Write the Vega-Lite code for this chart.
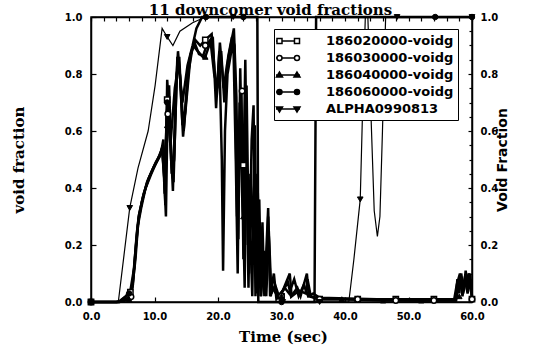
{
  "$schema": "https://vega.github.io/schema/vega-lite/v6.json",
  "width": 381,
  "height": 285,
  "autosize": {"type": "none"},
  "padding": {"left": 91, "top": 17, "right": 61, "bottom": 46},
  "background": "white",
  "title": {"text": "11 downcomer void fractions", "font": "DejaVu Serif", "fontSize": 15, "fontWeight": "bold", "color": "black", "anchor": "middle", "offset": -6, "dx": -11},
  "config": {
    "view": {"stroke": "black", "strokeWidth": 1.5},
    "axis": {"domainColor": "black", "domainWidth": 1.5, "tickColor": "black", "tickWidth": 1.2, "labelColor": "black", "labelFont": "DejaVu Sans", "labelFontWeight": "bold", "labelFontSize": 10, "titleColor": "black", "grid": false, "labelFlush": false, "labelOverlap": false}
  },
  "datasets": {
    "lines": [
      {"s":"a","t":0,"v":0},{"s":"a","t":4,"v":0},{"s":"a","t":4.6,"v":0.005},{"s":"a","t":5.5,"v":0.02},{"s":"a","t":6.2,"v":0.04},{"s":"a","t":6.8,"v":0.12},{"s":"a","t":7.2,"v":0.24},{"s":"a","t":7.6,"v":0.31},{"s":"a","t":8.2,"v":0.37},{"s":"a","t":9,"v":0.43},{"s":"a","t":10,"v":0.48},{"s":"a","t":11,"v":0.52},{"s":"a","t":11.4,"v":0.57},{"s":"a","t":11.7,"v":0.34},{"s":"a","t":12.0,"v":0.78},{"s":"a","t":12.4,"v":0.63},{"s":"a","t":12.9,"v":0.39},{"s":"a","t":13.3,"v":0.72},{"s":"a","t":13.7,"v":0.88},{"s":"a","t":14.2,"v":0.74},{"s":"a","t":14.6,"v":0.6},{"s":"a","t":15.2,"v":0.79},{"s":"a","t":15.9,"v":0.88},{"s":"a","t":16.4,"v":0.92},{"s":"a","t":17.2,"v":0.9},{"s":"a","t":18,"v":0.92},{"s":"a","t":19,"v":0.94},{"s":"a","t":19.8,"v":0.72},{"s":"a","t":20.3,"v":0.91},{"s":"a","t":20.9,"v":0.75},{"s":"a","t":21.4,"v":0.83},{"s":"a","t":22,"v":0.9},{"s":"a","t":22.5,"v":0.96},{"s":"a","t":22.9,"v":0.72},{"s":"a","t":23.2,"v":0.22},{"s":"a","t":23.5,"v":0.82},{"s":"a","t":23.8,"v":0.48},{"s":"a","t":24.2,"v":0.05},{"s":"a","t":24.5,"v":0.76},{"s":"a","t":24.9,"v":0.1},{"s":"a","t":25.3,"v":0.57},{"s":"a","t":25.6,"v":0.69},{"s":"a","t":25.9,"v":0.02},{"s":"a","t":26.2,"v":0.45},{"s":"a","t":26.6,"v":0.05},{"s":"a","t":27.0,"v":0.28},{"s":"a","t":27.3,"v":0.02},{"s":"a","t":27.9,"v":0.33},{"s":"a","t":28.2,"v":0.02},{"s":"a","t":28.8,"v":0.1},{"s":"a","t":29.2,"v":0.01},{"s":"a","t":30,"v":0.03},{"s":"a","t":31,"v":0.07},{"s":"a","t":31.5,"v":0.02},{"s":"a","t":32.5,"v":0.05},{"s":"a","t":33,"v":0.02},{"s":"a","t":34,"v":0.1},{"s":"a","t":34.3,"v":0.02},{"s":"a","t":36,"v":0.01},{"s":"a","t":40,"v":0.01},{"s":"a","t":50,"v":0.005},{"s":"a","t":57.4,"v":0.005},{"s":"a","t":57.7,"v":0.08},{"s":"a","t":58,"v":0.03},{"s":"a","t":58.3,"v":0.1},{"s":"a","t":58.7,"v":0.04},{"s":"a","t":59,"v":0.11},{"s":"a","t":59.4,"v":0.05},{"s":"a","t":59.7,"v":0.1},{"s":"a","t":60,"v":0.02},
      {"s":"b","t":0,"v":0},{"s":"b","t":4.2,"v":0},{"s":"b","t":5,"v":0.005},{"s":"b","t":5.8,"v":0.015},{"s":"b","t":6.4,"v":0.03},{"s":"b","t":7.0,"v":0.15},{"s":"b","t":7.4,"v":0.27},{"s":"b","t":7.9,"v":0.33},{"s":"b","t":8.6,"v":0.4},{"s":"b","t":9.5,"v":0.45},{"s":"b","t":10.5,"v":0.5},{"s":"b","t":11.2,"v":0.54},{"s":"b","t":11.5,"v":0.45},{"s":"b","t":11.8,"v":0.3},{"s":"b","t":12.1,"v":0.74},{"s":"b","t":12.6,"v":0.5},{"s":"b","t":13.0,"v":0.42},{"s":"b","t":13.5,"v":0.8},{"s":"b","t":13.9,"v":0.86},{"s":"b","t":14.4,"v":0.62},{"s":"b","t":14.8,"v":0.66},{"s":"b","t":15.5,"v":0.85},{"s":"b","t":16.1,"v":0.9},{"s":"b","t":16.8,"v":0.88},{"s":"b","t":17.6,"v":0.86},{"s":"b","t":18.2,"v":0.9},{"s":"b","t":18.8,"v":0.92},{"s":"b","t":19.4,"v":0.8},{"s":"b","t":19.9,"v":0.75},{"s":"b","t":20.5,"v":0.88},{"s":"b","t":21.0,"v":0.7},{"s":"b","t":21.6,"v":0.86},{"s":"b","t":22.2,"v":0.93},{"s":"b","t":22.6,"v":0.9},{"s":"b","t":23.0,"v":0.3},{"s":"b","t":23.3,"v":0.6},{"s":"b","t":23.7,"v":0.74},{"s":"b","t":24.0,"v":0.15},{"s":"b","t":24.4,"v":0.62},{"s":"b","t":24.8,"v":0.05},{"s":"b","t":25.1,"v":0.45},{"s":"b","t":25.5,"v":0.2},{"s":"b","t":25.8,"v":0.62},{"s":"b","t":26.1,"v":0.03},{"s":"b","t":26.5,"v":0.36},{"s":"b","t":26.8,"v":0.02},{"s":"b","t":27.2,"v":0.18},{"s":"b","t":27.6,"v":0.02},{"s":"b","t":28.0,"v":0.25},{"s":"b","t":28.4,"v":0.03},{"s":"b","t":29,"v":0.06},{"s":"b","t":29.6,"v":0.02},{"s":"b","t":30.5,"v":0.05},{"s":"b","t":31.2,"v":0.03},{"s":"b","t":32,"v":0.08},{"s":"b","t":32.7,"v":0.02},{"s":"b","t":33.5,"v":0.06},{"s":"b","t":34.2,"v":0.02},{"s":"b","t":35,"v":0.03},{"s":"b","t":36,"v":0.015},{"s":"b","t":45,"v":0.01},{"s":"b","t":57.2,"v":0.01},{"s":"b","t":57.6,"v":0.06},{"s":"b","t":58.1,"v":0.1},{"s":"b","t":58.5,"v":0.02},{"s":"b","t":58.9,"v":0.09},{"s":"b","t":59.3,"v":0.03},{"s":"b","t":59.8,"v":0.08},{"s":"b","t":60,"v":0.01},
      {"s":"c","t":0,"v":0},{"s":"c","t":4.4,"v":0},{"s":"c","t":5.2,"v":0.003},{"s":"c","t":6,"v":0.01},{"s":"c","t":6.6,"v":0.06},{"s":"c","t":7.1,"v":0.2},{"s":"c","t":7.5,"v":0.29},{"s":"c","t":8,"v":0.35},{"s":"c","t":8.8,"v":0.42},{"s":"c","t":9.8,"v":0.47},{"s":"c","t":10.8,"v":0.51},{"s":"c","t":11.3,"v":0.55},{"s":"c","t":11.6,"v":0.38},{"s":"c","t":11.9,"v":0.65},{"s":"c","t":12.3,"v":0.76},{"s":"c","t":12.7,"v":0.45},{"s":"c","t":13.1,"v":0.5},{"s":"c","t":13.6,"v":0.86},{"s":"c","t":14.0,"v":0.8},{"s":"c","t":14.5,"v":0.58},{"s":"c","t":15.0,"v":0.7},{"s":"c","t":15.7,"v":0.87},{"s":"c","t":16.3,"v":0.91},{"s":"c","t":17,"v":0.87},{"s":"c","t":18,"v":0.86},{"s":"c","t":18.6,"v":0.9},{"s":"c","t":19.2,"v":0.92},{"s":"c","t":19.7,"v":0.68},{"s":"c","t":20.2,"v":0.88},{"s":"c","t":20.6,"v":0.5},{"s":"c","t":20.8,"v":0.11},{"s":"c","t":21.1,"v":0.6},{"s":"c","t":21.5,"v":0.8},{"s":"c","t":22.1,"v":0.88},{"s":"c","t":22.4,"v":0.94},{"s":"c","t":22.8,"v":0.5},{"s":"c","t":23.1,"v":0.1},{"s":"c","t":23.4,"v":0.7},{"s":"c","t":23.9,"v":0.3},{"s":"c","t":24.3,"v":0.85},{"s":"c","t":24.7,"v":0.2},{"s":"c","t":25.0,"v":0.3},{"s":"c","t":25.4,"v":0.02},{"s":"c","t":25.7,"v":0.5},{"s":"c","t":26.0,"v":0.05},{"s":"c","t":26.4,"v":0.25},{"s":"c","t":26.7,"v":0.02},{"s":"c","t":27.1,"v":0.12},{"s":"c","t":27.5,"v":0.03},{"s":"c","t":27.9,"v":0.3},{"s":"c","t":28.3,"v":0.02},{"s":"c","t":28.6,"v":0.05},{"s":"c","t":29.4,"v":0.02},{"s":"c","t":30.2,"v":0.04},{"s":"c","t":31.3,"v":0.1},{"s":"c","t":31.6,"v":0.02},{"s":"c","t":32.8,"v":0.04},{"s":"c","t":33.8,"v":0.03},{"s":"c","t":34.1,"v":0.08},{"s":"c","t":34.6,"v":0.02},{"s":"c","t":36,"v":0.01},{"s":"c","t":39.5,"v":0.01},{"s":"c","t":46,"v":0.005},{"s":"c","t":57.5,"v":0.005},{"s":"c","t":57.8,"v":0.05},{"s":"c","t":58.2,"v":0.08},{"s":"c","t":58.6,"v":0.03},{"s":"c","t":59,"v":0.07},{"s":"c","t":59.5,"v":0.1},{"s":"c","t":59.9,"v":0.03},{"s":"c","t":60,"v":0.01},
      {"s":"d","t":0,"v":0},{"s":"d","t":4.5,"v":0},{"s":"d","t":5.5,"v":0.02},{"s":"d","t":6.5,"v":0.05},{"s":"d","t":7,"v":0.18},{"s":"d","t":7.5,"v":0.3},{"s":"d","t":8.3,"v":0.38},{"s":"d","t":9.2,"v":0.44},{"s":"d","t":10.2,"v":0.49},{"s":"d","t":11.2,"v":0.53},{"s":"d","t":11.6,"v":0.42},{"s":"d","t":12,"v":0.7},{"s":"d","t":12.5,"v":0.55},{"s":"d","t":13.2,"v":0.75},{"s":"d","t":13.8,"v":0.84},{"s":"d","t":14.4,"v":0.7},{"s":"d","t":15.2,"v":0.83},{"s":"d","t":16,"v":0.9},{"s":"d","t":16.6,"v":0.96},{"s":"d","t":17.5,"v":1.0},{"s":"d","t":26.2,"v":1.0},{"s":"d","t":26.35,"v":0.0},{"s":"d","t":35.2,"v":0.0},{"s":"d","t":35.45,"v":1.0},{"s":"d","t":60,"v":1.0},
      {"s":"e","t":0,"v":0},{"s":"e","t":4.3,"v":0},{"s":"e","t":6.1,"v":0.33},{"s":"e","t":7.4,"v":0.47},{"s":"e","t":9,"v":0.6},{"s":"e","t":10.1,"v":0.76},{"s":"e","t":11.2,"v":0.96},{"s":"e","t":12,"v":0.93},{"s":"e","t":12.9,"v":0.9},{"s":"e","t":14,"v":0.95},{"s":"e","t":16,"v":0.98},{"s":"e","t":18,"v":1.0},{"s":"e","t":26.2,"v":1.0},{"s":"e","t":26.3,"v":0},{"s":"e","t":40.6,"v":0},{"s":"e","t":41.4,"v":0.15},{"s":"e","t":42.4,"v":0.36},{"s":"e","t":42.8,"v":0.7},{"s":"e","t":43.2,"v":1.0},{"s":"e","t":43.6,"v":1.0},{"s":"e","t":44.1,"v":0.65},{"s":"e","t":44.6,"v":0.32},{"s":"e","t":45.1,"v":0.23},{"s":"e","t":45.5,"v":0.3},{"s":"e","t":45.9,"v":0.6},{"s":"e","t":46.4,"v":1.0},{"s":"e","t":60,"v":1.0}
    ],
    "marks": [
      {"s":"a","t":0,"v":0},{"s":"a","t":6.2,"v":0.035},{"s":"a","t":12,"v":0.71},{"s":"a","t":18,"v":0.92},{"s":"a","t":24,"v":0.48},{"s":"a","t":30,"v":0.02},{"s":"a","t":36,"v":0.01},{"s":"a","t":42,"v":0.01},{"s":"a","t":48,"v":0.01},{"s":"a","t":54,"v":0.01},{"s":"a","t":60,"v":0.01},
      {"s":"b","t":0,"v":0},{"s":"b","t":6.3,"v":0.018},{"s":"b","t":12.1,"v":0.66},{"s":"b","t":18,"v":0.9},{"s":"b","t":23.8,"v":0.74},{"s":"b","t":30,"v":0.02},{"s":"b","t":36,"v":0.01},{"s":"b","t":42,"v":0.01},{"s":"b","t":48,"v":0.005},{"s":"b","t":54,"v":0.005},{"s":"b","t":60,"v":0.01},
      {"s":"c","t":0,"v":0},{"s":"c","t":6,"v":0.01},{"s":"c","t":12,"v":0.62},{"s":"c","t":18,"v":0.86},{"s":"c","t":24,"v":0.3},{"s":"c","t":30,"v":0.02},{"s":"c","t":39.5,"v":0.01},{"s":"c","t":46,"v":0.005},{"s":"c","t":52,"v":0.005},{"s":"c","t":58,"v":0.02},
      {"s":"d","t":0,"v":0},{"s":"d","t":6,"v":0.03},{"s":"d","t":12,"v":0.7},{"s":"d","t":18.1,"v":1.0},{"s":"d","t":24,"v":1.0},{"s":"d","t":30,"v":0},{"s":"d","t":54.2,"v":1.0},{"s":"d","t":60,"v":1.0},
      {"s":"e","t":0,"v":0},{"s":"e","t":6.1,"v":0.33},{"s":"e","t":12,"v":0.93},{"s":"e","t":22.4,"v":1.0},{"s":"e","t":30.2,"v":0},{"s":"e","t":36,"v":0},{"s":"e","t":42.4,"v":0.36},{"s":"e","t":48.2,"v":1.0},{"s":"e","t":60,"v":1.0}
    ],
    "legend": [
      {"name":"186020000-voidg"},{"name":"186030000-voidg"},{"name":"186040000-voidg"},{"name":"186060000-voidg"},{"name":"ALPHA0990813"}
    ]
  },
  "resolve": {"axis": {"x": "independent", "y": "independent"}},
  "layer": [
    {
      "data": {"name": "lines"},
      "transform": [{"filter": "datum.s != 'e'"}],
      "mark": {"type": "line", "stroke": "black", "strokeWidth": 2.5},
      "encoding": {
        "x": {"field": "t", "type": "quantitative", "scale": {"domain": [0, 60], "nice": false},
              "axis": {"orient": "top", "values": [0,2,4,6,8,10,12,14,16,18,20,22,24,26,28,30,32,34,36,38,40,42,44,46,48,50,52,54,56,58,60], "labels": false, "tickSize": -4, "title": null, "domain": true}},
        "y": {"field": "v", "type": "quantitative", "scale": {"domain": [0, 1], "nice": false},
              "axis": {"orient": "right", "values": [0,0.2,0.4,0.6,0.8,1], "format": ".1f", "tickSize": -4, "labelPadding": 12,
                       "title": "Void Fraction", "titleAngle": 270, "titleFont": "DejaVu Sans", "titleFontSize": 14, "titleFontWeight": "bold", "titlePadding": 12}},
        "detail": {"field": "s"}
      }
    },
    {
      "data": {"name": "lines"},
      "transform": [{"filter": "datum.s == 'e'"}],
      "mark": {"type": "line", "stroke": "black", "strokeWidth": 1.2},
      "encoding": {
        "x": {"field": "t", "type": "quantitative", "scale": {"domain": [0, 60], "nice": false},
              "axis": {"orient": "bottom", "values": [0,10,20,30,40,50,60], "format": ".1f", "tickSize": -5, "labelPadding": 14,
                       "title": "Time (sec)", "titleFont": "DejaVu Serif", "titleFontSize": 15, "titleFontWeight": "bold", "titlePadding": 8, "titleX": 192}},
        "y": {"field": "v", "type": "quantitative", "scale": {"domain": [0, 1], "nice": false},
              "axis": {"orient": "left", "values": [0,0.2,0.4,0.6,0.8,1], "format": ".1f", "tickSize": -5, "labelPadding": 14,
                       "title": "void fraction", "titleFont": "DejaVu Serif", "titleFontSize": 15, "titleFontWeight": "bold", "titlePadding": 38}}
      }
    },
    {
      "data": {"name": "marks"},
      "transform": [{"filter": "datum.s == 'a'"}],
      "mark": {"type": "point", "shape": "square", "filled": true, "fill": "white", "stroke": "black", "strokeWidth": 1.5, "size": 28, "opacity": 1},
      "encoding": {"x": {"field": "t", "type": "quantitative", "axis": null},
                   "y": {"field": "v", "type": "quantitative", "axis": {"orient": "right", "values": [0.05,0.1,0.15,0.25,0.3,0.35,0.45,0.5,0.55,0.65,0.7,0.75,0.85,0.9,0.95], "labels": false, "domain": false, "tickSize": -3, "title": null}}}
    },
    {
      "data": {"name": "marks"},
      "transform": [{"filter": "datum.s == 'b'"}],
      "mark": {"type": "point", "shape": "circle", "filled": true, "fill": "white", "stroke": "black", "strokeWidth": 1.5, "size": 30, "opacity": 1},
      "encoding": {"x": {"field": "t", "type": "quantitative", "axis": null}, "y": {"field": "v", "type": "quantitative", "axis": null}}
    },
    {
      "data": {"name": "marks"},
      "transform": [{"filter": "datum.s == 'c'"}],
      "mark": {"type": "point", "shape": "triangle-up", "filled": true, "fill": "black", "stroke": "black", "strokeWidth": 1, "size": 30, "opacity": 1},
      "encoding": {"x": {"field": "t", "type": "quantitative", "axis": null}, "y": {"field": "v", "type": "quantitative", "axis": null}}
    },
    {
      "data": {"name": "marks"},
      "transform": [{"filter": "datum.s == 'd'"}],
      "mark": {"type": "point", "shape": "circle", "filled": true, "fill": "black", "stroke": "black", "strokeWidth": 1, "size": 30, "opacity": 1},
      "encoding": {"x": {"field": "t", "type": "quantitative", "axis": null}, "y": {"field": "v", "type": "quantitative", "axis": null}}
    },
    {
      "data": {"name": "marks"},
      "transform": [{"filter": "datum.s == 'e'"}],
      "mark": {"type": "point", "shape": "triangle-down", "filled": true, "fill": "black", "stroke": "black", "strokeWidth": 1, "size": 32, "opacity": 1},
      "encoding": {"x": {"field": "t", "type": "quantitative", "axis": null}, "y": {"field": "v", "type": "quantitative", "axis": null}}
    },
    {
      "data": {"name": "legend"},
      "transform": [{"filter": "false"}],
      "mark": {"type": "point", "filled": true, "strokeWidth": 1.5, "opacity": 1},
      "encoding": {
        "shape": {"field": "name", "type": "nominal",
          "scale": {"domain": ["186020000-voidg","186030000-voidg","186040000-voidg","186060000-voidg","ALPHA0990813"],
                    "range": [
                      "M-1.43,0H-1.29M-0.57,0H1.21M1.93,0H2M-1.29,-0.36H-0.57V0.36H-1.29ZM1.21,-0.36H1.93V0.36H1.21Z",
                      "M-1.43,0H-1.29M-0.57,0H1.21M1.93,0H2M-0.57,0A0.36,0.36 0 1,1 -1.29,0A0.36,0.36 0 1,1 -0.57,0ZM1.93,0A0.36,0.36 0 1,1 1.21,0A0.36,0.36 0 1,1 1.93,0Z",
                      "M-1.43,0H2M-0.93,-0.42L-0.5,0.3L-1.36,0.3ZM1.57,-0.42L2,0.3L1.14,0.3Z",
                      "M-1.43,0H2M-0.57,0A0.36,0.36 0 1,1 -1.29,0A0.36,0.36 0 1,1 -0.57,0ZM1.93,0A0.36,0.36 0 1,1 1.21,0A0.36,0.36 0 1,1 1.93,0Z",
                      "M-1.43,0H2M-1.36,-0.3L-0.5,-0.3L-0.93,0.42ZM1.14,-0.3L2,-0.3L1.57,0.42Z"
                    ]},
          "legend": {"title": null, "orient": "none", "legendX": 183, "legendY": 12, "fillColor": "white", "strokeColor": "black", "padding": 4,
                     "symbolSize": 196, "symbolStrokeWidth": 1.5, "labelOffset": 32, "rowPadding": 2,
                     "labelFont": "DejaVu Sans", "labelFontSize": 13, "labelFontWeight": "bold", "labelColor": "black", "labelLimit": 220,
                     "encode": {"legend": {"update": {"strokeWidth": {"value": 1.5}}}}}},
        "fill": {"field": "name", "type": "nominal",
          "scale": {"domain": ["186020000-voidg","186030000-voidg","186040000-voidg","186060000-voidg","ALPHA0990813"],
                    "range": ["white","white","black","black","black"]},
          "legend": {"title": null, "orient": "none", "legendX": 183, "legendY": 12, "fillColor": "white", "strokeColor": "black", "padding": 4,
                     "symbolSize": 196, "symbolStrokeWidth": 1.5, "labelOffset": 32, "rowPadding": 2,
                     "labelFont": "DejaVu Sans", "labelFontSize": 13, "labelFontWeight": "bold", "labelColor": "black", "labelLimit": 220,
                     "encode": {"legend": {"update": {"strokeWidth": {"value": 1.5}}}}}},
        "stroke": {"field": "name", "type": "nominal",
          "scale": {"domain": ["186020000-voidg","186030000-voidg","186040000-voidg","186060000-voidg","ALPHA0990813"],
                    "range": ["black","black","black","black","black"]},
          "legend": {"title": null, "orient": "none", "legendX": 183, "legendY": 12, "fillColor": "white", "strokeColor": "black", "padding": 4,
                     "symbolSize": 196, "symbolStrokeWidth": 1.5, "labelOffset": 32, "rowPadding": 2,
                     "labelFont": "DejaVu Sans", "labelFontSize": 13, "labelFontWeight": "bold", "labelColor": "black", "labelLimit": 220,
                     "encode": {"legend": {"update": {"strokeWidth": {"value": 1.5}}}}}}
      }
    }
  ]
}
